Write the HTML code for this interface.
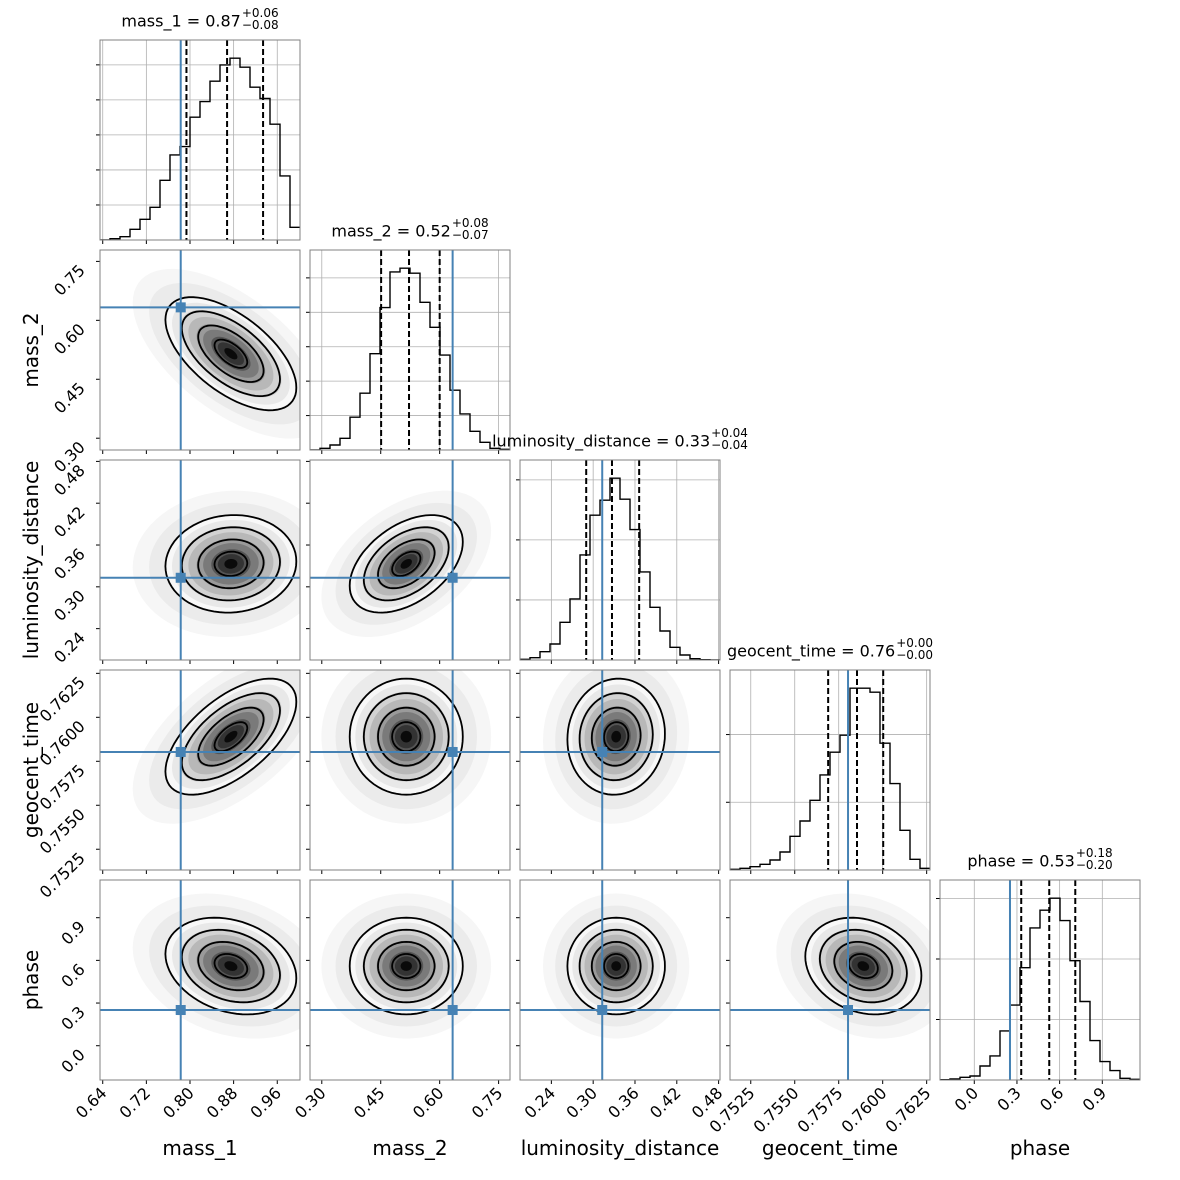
<!DOCTYPE html>
<html><head><meta charset="utf-8"><title>Corner plot</title>
<style>
html,body{margin:0;padding:0;background:#fff;}
#wrap{position:relative;width:1180px;height:1180px;overflow:hidden;font-family:"DejaVu Sans","Liberation Sans",sans-serif;}
svg text{font-family:"DejaVu Sans","Liberation Sans",sans-serif;}
.title{position:absolute;font-size:16px;color:#000;white-space:nowrap;transform:translateX(-50%);}
.frac{display:inline-block;vertical-align:middle;font-size:12px;line-height:12px;margin-left:1px;position:relative;top:-3px;}
</style></head>
<body>
<div id="wrap">
<svg id="svg" width="1180" height="1180" xmlns="http://www.w3.org/2000/svg"></svg>
<div class="title" style="left:200px;top:10px;">mass_1 = 0.87<span class="frac">+0.06<br>−0.08</span></div>
<div class="title" style="left:410px;top:220px;">mass_2 = 0.52<span class="frac">+0.08<br>−0.07</span></div>
<div class="title" style="left:620px;top:430px;">luminosity_distance = 0.33<span class="frac">+0.04<br>−0.04</span></div>
<div class="title" style="left:830px;top:640px;">geocent_time = 0.76<span class="frac">+0.00<br>−0.00</span></div>
<div class="title" style="left:1040px;top:850px;">phase = 0.53<span class="frac">+0.18<br>−0.20</span></div>
</div>
<script>
// ---- data ----
const params = ["mass_1","mass_2","luminosity_distance","geocent_time","phase"];
const axisLo = [0.635, 0.270, 0.195, 0.75132, -0.241];
const axisHi = [1.0017, 0.779, 0.482, 0.76269, 1.165];
const tickVals = [
  [0.64,0.72,0.80,0.88,0.96],
  [0.30,0.45,0.60,0.75],
  [0.24,0.30,0.36,0.42,0.48],
  [0.7525,0.7550,0.7575,0.7600,0.7625],
  [0.0,0.3,0.6,0.9]
];
const tickLabels = [
  ["0.64","0.72","0.80","0.88","0.96"],
  ["0.30","0.45","0.60","0.75"],
  ["0.24","0.30","0.36","0.42","0.48"],
  ["0.7525","0.7550","0.7575","0.7600","0.7625"],
  ["0.0","0.3","0.6","0.9"]
];
const histMass1 = [0,4,10,32,62,98,179,255,280,368,415,476,525,545,518,458,424,347,192,38];
const histMass2 = [0,5,15,35,98,170,288,426,533,544,529,442,367,284,179,108,56,23,5,2];
const histLum   = [2,7,25,48,113,183,315,434,479,545,482,391,264,158,87,38,15,4,1,0];
const histGeo   = [2,5,10,17,30,54,101,147,209,285,353,404,545,545,533,380,259,119,32,5];
const histPhase = [1,3,8,12,42,72,147,224,336,455,508,544,477,357,235,118,55,28,5,2];
const hists = [histMass1,histMass2,histLum,histGeo,histPhase];
const histTicks = [[105,210,315,420,525],[103,206,309,412,515],[180,360,540],[203,406],[181,362,543]];
const truths = [0.783, 0.633, 0.313, 0.75803, 0.251];
const q16 = [0.7935, 0.451, 0.290, 0.75690, 0.330];
const q50 = [0.8680, 0.522, 0.327, 0.75854, 0.527];
const q84 = [0.9340, 0.600, 0.366, 0.76003, 0.710];
const means = [0.875, 0.515, 0.333, 0.75890, 0.56];
const sds   = [0.060, 0.072, 0.035, 0.00165, 0.17];
const corr = [
  [1,-0.6,0.05,0.6,-0.25],
  [-0.6,1,0.45,0.0,0.0],
  [0.05,0.45,1,0.05,0.0],
  [0.6,0.0,0.05,1,-0.2],
  [-0.25,0.0,0.0,-0.2,1]
];
// ---- layout ----
const P0X=100, P0Y=40, SZ=200, STEP=210;
const NS="http://www.w3.org/2000/svg";
const svg=document.getElementById('svg');
function el(tag,attrs,parent){const e=document.createElementNS(NS,tag);for(const k in attrs)e.setAttribute(k,attrs[k]);(parent||svg).appendChild(e);return e;}
function xs(i,v,col){return P0X+col*STEP+(v-axisLo[i])/(axisHi[i]-axisLo[i])*SZ;}
function ys(j,v,row){return P0Y+row*STEP+SZ-(v-axisLo[j])/(axisHi[j]-axisLo[j])*SZ;}
const BLUE="#4682b4";
function ellipsePts(i,j,r,row,col){
  const pts=[];const rho=corr[i][j];
  for(let k=0;k<=72;k++){const t=k/72*2*Math.PI;
    const dx=means[i]+sds[i]*r*Math.cos(t);
    const dy=means[j]+sds[j]*r*(rho*Math.cos(t)+Math.sqrt(1-rho*rho)*Math.sin(t));
    pts.push(xs(i,dx,col).toFixed(1)+","+ys(j,dy,row).toFixed(1));}
  return pts.join(" ");
}
for(let row=0;row<5;row++){
  for(let col=0;col<=row;col++){
    const x0=P0X+col*STEP,y0=P0Y+row*STEP;
    const g=el('g',{});
    
    
    const cid='clip'+row+'_'+col;
    const cp=el('clipPath',{id:cid},g);el('rect',{x:x0,y:y0,width:SZ,height:SZ},cp);
    const inner=el('g',{'clip-path':'url(#'+cid+')'},g);
    if(row===col){
      const i=col,h=hists[i],ymax=Math.max(...h)*1.1;
      const hy=v=>y0+SZ-v/ymax*SZ;
      tickVals[i].forEach(v=>el('line',{x1:xs(i,v,col),x2:xs(i,v,col),y1:y0,y2:y0+SZ,stroke:'#b0b0b0','stroke-width':0.8},inner));
      histTicks[i].forEach(v=>el('line',{x1:x0,x2:x0+SZ,y1:hy(v),y2:hy(v),stroke:'#b0b0b0','stroke-width':0.8},inner));
      let d='M'+x0+','+(y0+SZ);
      const bw=(axisHi[i]-axisLo[i])/h.length;
      h.forEach((c,k)=>{const xa=xs(i,axisLo[i]+k*bw,col),xb=xs(i,axisLo[i]+(k+1)*bw,col);d+=' L'+xa.toFixed(1)+','+hy(c).toFixed(1)+' L'+xb.toFixed(1)+','+hy(c).toFixed(1);});
      const hp=el('path',{d:d,fill:'none',stroke:'#000','stroke-width':1.4},inner);
      
      
      el('line',{x1:xs(i,truths[i],col),x2:xs(i,truths[i],col),y1:y0,y2:y0+SZ,stroke:BLUE,'stroke-width':2},inner);
      [q16[i],q50[i],q84[i]].forEach(q=>{
        const ql=el('line',{x1:xs(i,q,col),x2:xs(i,q,col),y1:y0,y2:y0+SZ,stroke:'#000','stroke-width':2,'stroke-dasharray':'6,3'},inner);
        
        
      });
      histTicks[i].forEach(v=>el('line',{x1:x0-4,x2:x0,y1:hy(v),y2:hy(v),stroke:'#000','stroke-width':1},g));
    } else {
      const i=col,j=row;
      el('polygon',{points:ellipsePts(i,j,3.0,row,col),fill:'#f6f6f6'},inner);
      el('polygon',{points:ellipsePts(i,j,2.5,row,col),fill:'#ebebeb'},inner);
      const grays=['#f8f8f8','#e8e8e8','#d2d2d2','#b8b8b8','#9a9a9a','#7a7a7a','#555555','#333333','#0a0a0a'];
      const radii=[2.0,1.8,1.55,1.3,1.05,0.85,0.6,0.4,0.2];
      radii.forEach((r,k)=>el('polygon',{points:ellipsePts(i,j,r,row,col),fill:grays[k]},inner));
      [2.0,1.5,1.0,0.5].forEach(r=>{
        const c=el('polygon',{points:ellipsePts(i,j,r,row,col),fill:'none',stroke:'#000','stroke-width':1.8},inner);
        
        
      });
      const tx=xs(i,truths[i],col),ty=ys(j,truths[j],row);
      el('line',{x1:tx,x2:tx,y1:y0,y2:y0+SZ,stroke:BLUE,'stroke-width':2},inner);
      el('line',{x1:x0,x2:x0+SZ,y1:ty,y2:ty,stroke:BLUE,'stroke-width':2},inner);
      const m=el('rect',{x:tx-5,y:ty-5,width:10,height:10,fill:BLUE},inner);
      
      
      tickVals[j].forEach(v=>{const yy=ys(j,v,row);if(yy>=y0-0.5&&yy<=y0+SZ+0.5)el('line',{x1:x0-4,x2:x0,y1:yy,y2:yy,stroke:'#000','stroke-width':1},g);});
    }
    tickVals[col].forEach(v=>{const xx=xs(col,v,col);if(xx>=x0-0.5&&xx<=x0+SZ+0.5)el('line',{x1:xx,x2:xx,y1:y0+SZ,y2:y0+SZ+4,stroke:'#000','stroke-width':1},g);});
    el('rect',{x:x0,y:y0,width:SZ,height:SZ,fill:'none',stroke:'#808080','stroke-width':1},g);
  }
}
for(let col=0;col<5;col++){
  const y0=P0Y+4*STEP+SZ;
  tickVals[col].forEach((v,k)=>{const xx=xs(col,v,col);if(xx<P0X+col*STEP-0.5||xx>P0X+col*STEP+SZ+0.5)return;
    const t=el('text',{x:xx+5,y:y0+14,'text-anchor':'end','font-size':16,transform:'rotate(-45 '+(xx+5)+' '+(y0+14)+')'});
    t.textContent=tickLabels[col][k];
    
    
  });
  const lbl=el('text',{x:P0X+col*STEP+SZ/2,y:1155,'text-anchor':'middle','font-size':20});
  lbl.textContent=params[col];
  
  
}
for(let row=1;row<5;row++){
  tickVals[row].forEach((v,k)=>{const yy=ys(row,v,row);if(yy<P0Y+row*STEP-0.5||yy>P0Y+row*STEP+SZ+0.5)return;
    const ax=P0X-14, ay=yy+10;
    const t=el('text',{x:ax,y:ay,'text-anchor':'end','font-size':16,transform:'rotate(-45 '+ax+' '+ay+')'});
    t.textContent=tickLabels[row][k];
    
    
  });
  const cy=P0Y+row*STEP+SZ/2;
  const lbl=el('text',{x:38,y:cy,'text-anchor':'middle','font-size':20,transform:'rotate(-90 38 '+cy+')'});
  lbl.textContent=params[row];
  
  
}
</script>
</body></html>
